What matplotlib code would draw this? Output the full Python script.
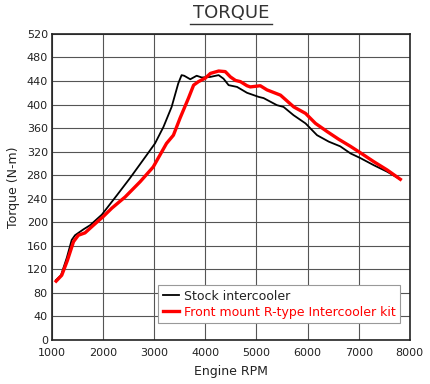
import matplotlib.pyplot as plt
from matplotlib.lines import Line2D

# Stock intercooler torque curve (rpm, N-m)
stock_rpm = [1080, 1176, 1290, 1385, 1450, 1615, 1745, 1975, 2270, 2525, 2850,
             3015, 3180, 3340, 3470, 3535, 3585, 3705, 3830, 3930, 4098, 4260,
             4355, 4455, 4620, 4815, 5045, 5140, 5400, 5530, 5725, 5960, 6185,
             6415, 6640, 6840, 7035, 7295, 7555, 7815]
stock_tq = [102, 110, 140, 170, 178, 188, 195, 213, 246, 275, 314,
            334, 362, 396, 436, 450, 449, 443, 449, 446, 447, 450,
            444, 433, 430, 420, 413, 411, 399, 396, 382, 368, 348,
            337, 329, 317, 309, 297, 286, 273]

# Front mount R-type intercooler kit torque curve
kit_rpm = [1080, 1190, 1300, 1420, 1515, 1645, 1810, 2005, 2170, 2430, 2725,
           2980, 3240, 3375, 3505, 3670, 3770, 3865, 4000, 4100, 4260, 4390,
           4490, 4590, 4685, 4815, 4880, 5075, 5205, 5470, 5730, 5960, 6155,
           6385, 6610, 6840, 7035, 7295, 7555, 7815]
kit_tq = [100, 110, 135, 167, 178, 182, 195, 210, 224, 243, 269,
          294, 334, 348, 377, 411, 433, 439, 445, 453, 457, 456,
          447, 441, 439, 432, 430, 432, 425, 416, 396, 385, 368,
          354, 341, 329, 318, 303, 289, 273]

x_ticks = list(range(1000, 8001, 1000))
y_ticks = list(range(0, 521, 40))

fig = plt.figure(figsize=(4.3, 3.84), dpi=100)
ax = fig.add_axes([0.121, 0.1146, 0.832, 0.797])

ax.plot(stock_rpm, stock_tq, color='black', lw=1.3, label='Stock intercooler', zorder=3)
ax.plot(kit_rpm, kit_tq, color='#ff0000', lw=2.4, label='Front mount R-type Intercooler kit', zorder=4)

ax.set_xlim(1000, 8000)
ax.set_ylim(0, 520)
ax.set_xticks(x_ticks)
ax.set_yticks(y_ticks)
ax.tick_params(length=0, labelsize=8, colors='#222222', pad=3)
ax.tick_params(axis='x', pad=6)
ax.grid(True, color='#555555', lw=0.8)
ax.set_axisbelow(True)
for s in ax.spines.values():
    s.set_color('#222222')
    s.set_linewidth(1.2)

ax.set_xlabel('Engine RPM', fontsize=9, color='#222222', labelpad=5)
ax.set_ylabel('Torque (N-m)', fontsize=9, color='#222222', labelpad=5)

leg = ax.legend(loc='lower left', bbox_to_anchor=(0.28, 0.035), fontsize=9,
                fancybox=False, framealpha=1, edgecolor='#999999',
                borderpad=0.35, labelspacing=0.25, handlelength=1.3,
                handletextpad=0.4)
leg.get_frame().set_linewidth(0.8)
for t, c in zip(leg.get_texts(), ['#222222', '#ff0000']):
    t.set_color(c)

# underlined title
fig.text(0.538, 0.966, 'TORQUE', ha='center', va='center', fontsize=13, color='#333333')
fig.add_artist(Line2D([0.442, 0.633], [0.938, 0.938], color='#333333', lw=1.0,
                      transform=fig.transFigure))

fig.savefig('out.png', dpi=100)
